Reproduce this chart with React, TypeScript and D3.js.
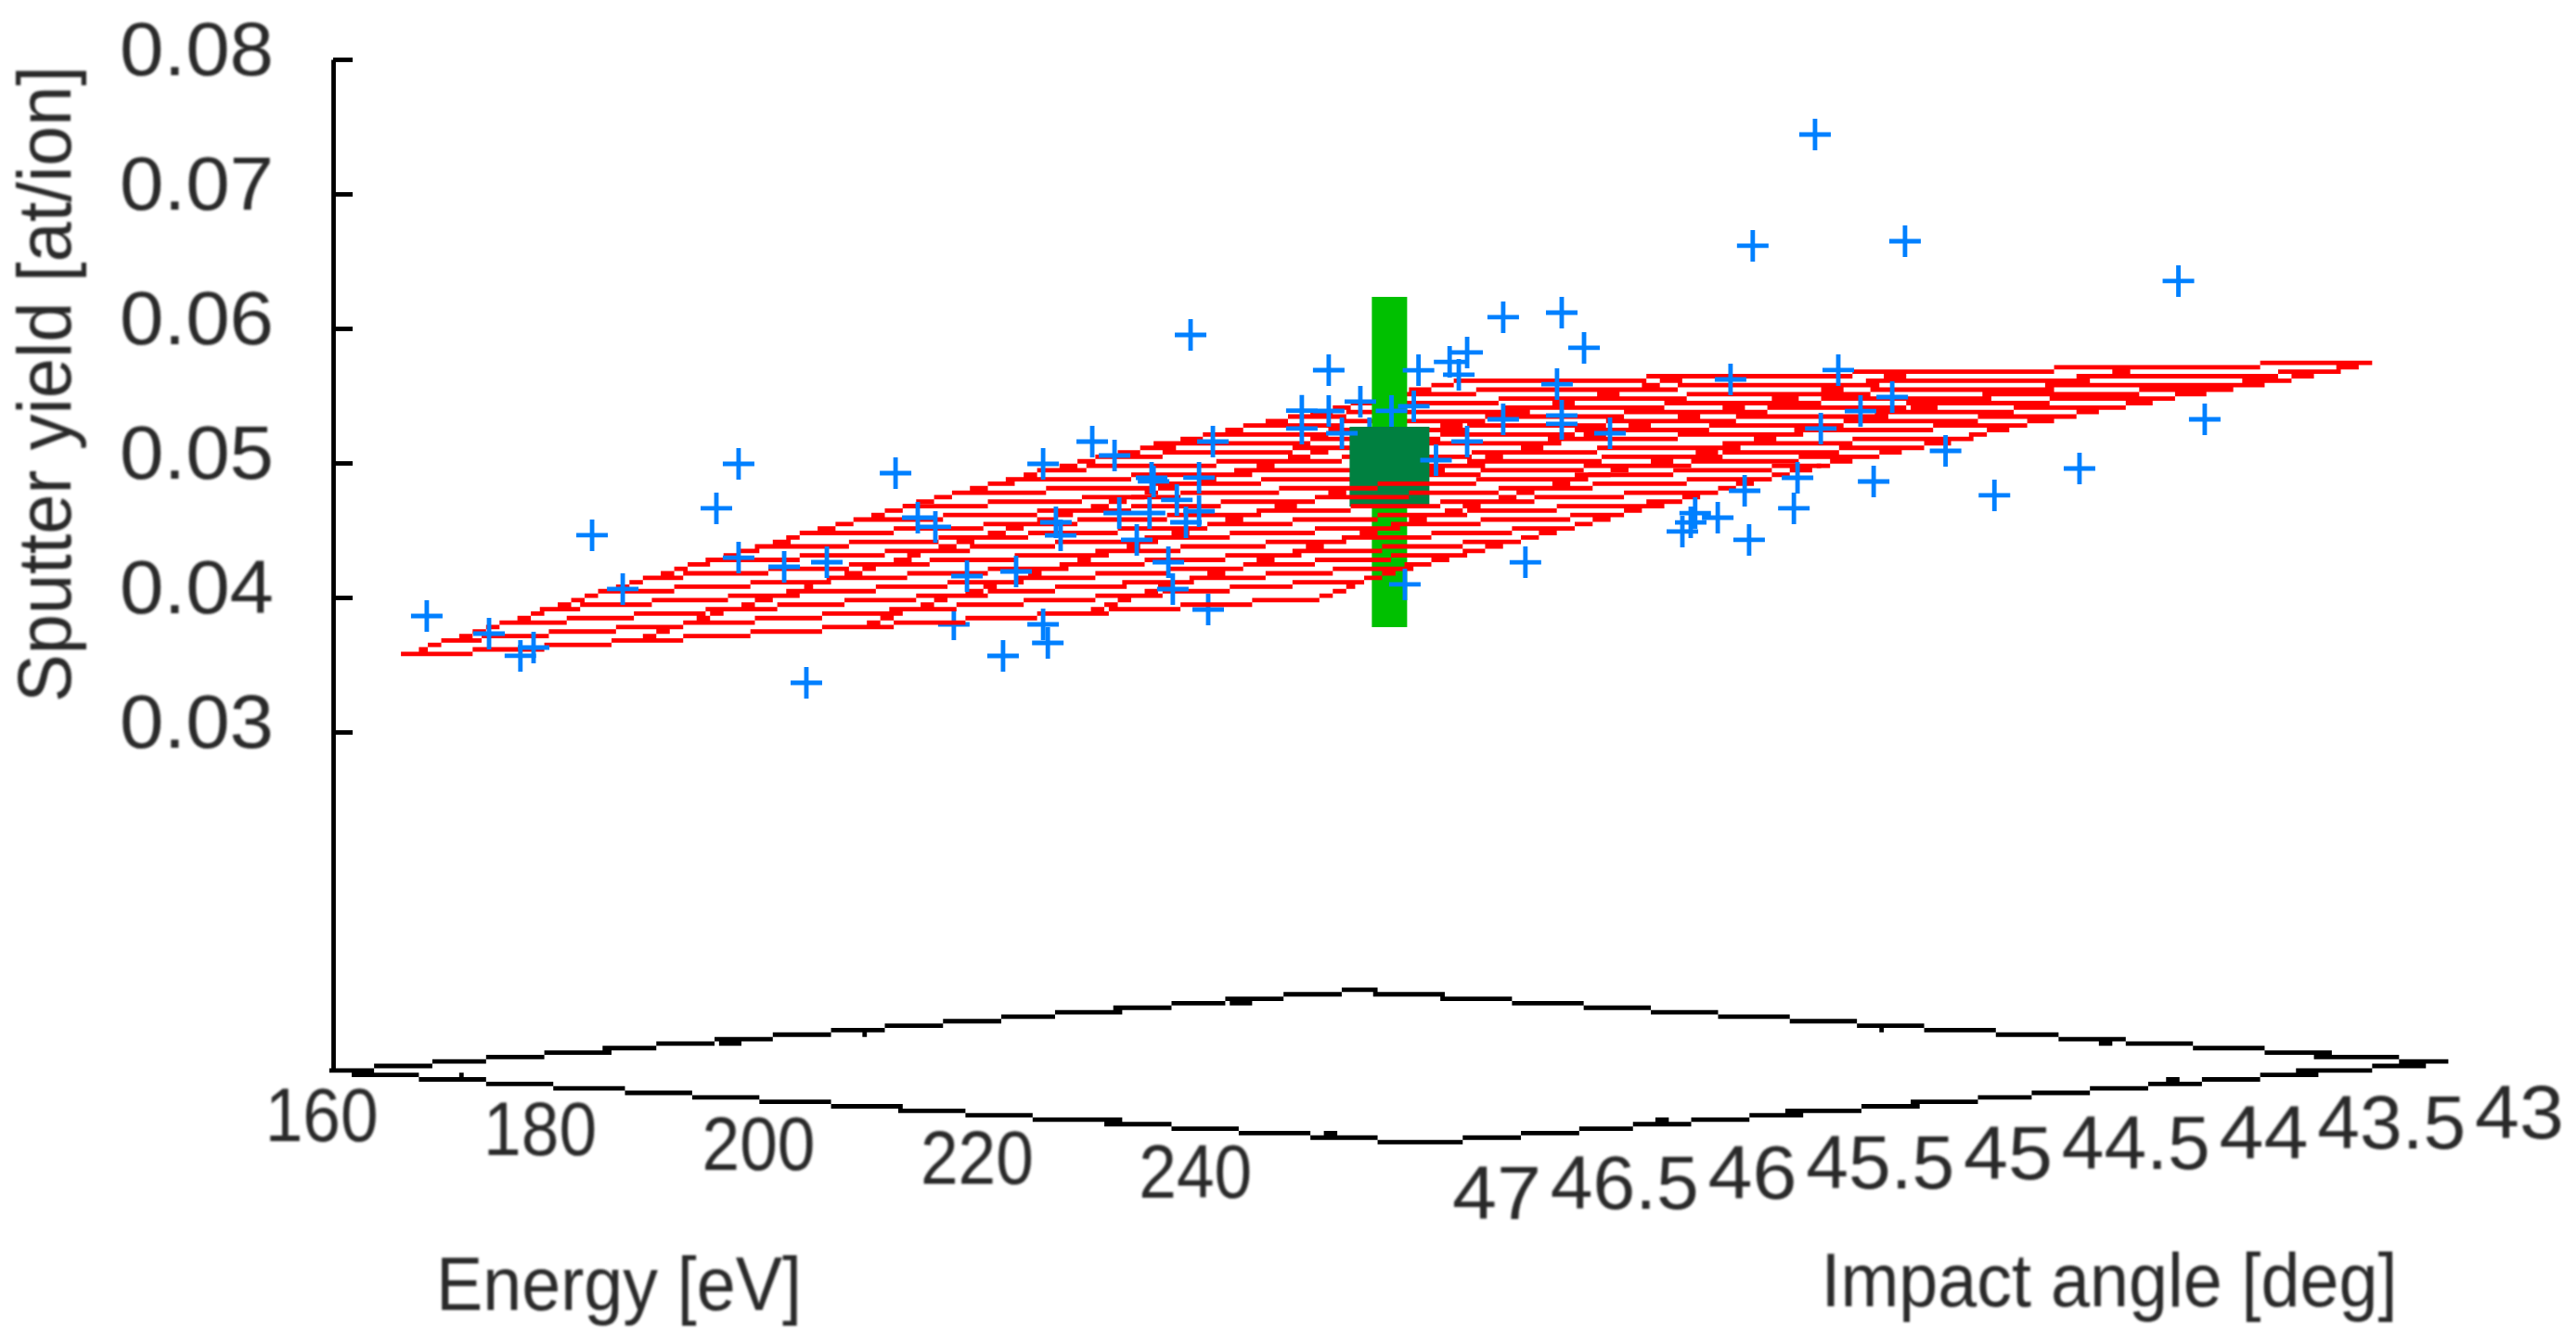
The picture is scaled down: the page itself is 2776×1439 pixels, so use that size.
// App.tsx - 3D sputter yield plot (fitted surface, measurements, mean with error bar)
import React, { useEffect, useRef } from 'react';
import * as d3 from 'd3';

const energyTicks = [160, 180, 200, 220, 240];
const angleTicks = [47, 46.5, 46, 45.5, 45, 44.5, 44, 43.5, 43];
const yieldTicks = [0.03, 0.04, 0.05, 0.06, 0.07, 0.08];

// fitted surface: five iso-energy lines, twenty-two iso-angle lines
const surfaceEnergy = [156.3, 177.3, 198.2, 219.2, 240.1];
const surfaceAngle = [47, 46.8, 46.61, 46.41, 46.22, 46.02, 45.82, 45.63, 45.43, 45.23, 45.04, 44.84, 44.65, 44.45, 44.25, 44.06, 43.86, 43.66, 43.47, 43.27, 43.08, 42.88];
const surfaceYieldLowE = [0.03599, 0.03687, 0.03775, 0.03862, 0.03949, 0.04037, 0.04116, 0.04188, 0.04261, 0.04333, 0.04408, 0.04477, 0.0454, 0.04604, 0.04668, 0.04715, 0.04761, 0.04807, 0.04857, 0.04909, 0.04961, 0.05013];
const surfaceYieldHighE = [0.04472, 0.0458, 0.04655, 0.04722, 0.04782, 0.04849, 0.04916, 0.04976, 0.0504, 0.05104, 0.05162, 0.05204, 0.05243, 0.05289, 0.0535, 0.05389, 0.05428, 0.05468, 0.05494, 0.05519, 0.05559, 0.05606];

// measurements
const pointEnergy = [154.43, 157.37, 158.86, 159.48, 162.24, 163.69, 168.12, 169.17, 169.17, 171.33, 172.38, 173.34, 176.59, 177.64, 178.48, 179.97, 181.68, 182.29, 183.57, 183.57, 183.79, 184.18, 184.4, 185.89, 186.95, 187.17, 188, 188.61, 188.7, 188.79, 189.49, 189.71, 189.89, 190.33, 190.54, 190.94, 190.94, 191.6, 195.81, 195.81, 197.08, 197.08, 197.7, 198.57, 200.04, 200.68, 201.1, 201.32, 202.15, 202.79, 203.23, 203.62, 203.62, 205.33, 205.33, 206.38, 207.87, 208.09, 208.09, 208.09, 209.15, 210.38, 213.8, 214.19, 214.41, 215.47, 216.08, 216.74, 216.96, 217.13, 219.07, 219.24, 220.07, 220.34, 221.17, 222.22, 222.84, 223.72, 224.33, 226.24, 228.56, 232.58, 237.26, 238.5];
const pointAngle = [46.823, 46.705, 46.646, 46.621, 46.51, 46.452, 46.275, 46.233, 46.233, 46.147, 46.105, 46.066, 45.936, 45.894, 45.861, 45.801, 45.733, 45.708, 45.657, 45.657, 45.648, 45.633, 45.624, 45.564, 45.522, 45.513, 45.48, 45.456, 45.452, 45.448, 45.42, 45.412, 45.404, 45.387, 45.378, 45.362, 45.362, 45.336, 45.168, 45.168, 45.117, 45.117, 45.092, 45.057, 44.998, 44.973, 44.956, 44.947, 44.914, 44.888, 44.871, 44.855, 44.855, 44.787, 44.787, 44.745, 44.685, 44.676, 44.676, 44.676, 44.634, 44.585, 44.448, 44.432, 44.424, 44.381, 44.357, 44.33, 44.322, 44.315, 44.237, 44.23, 44.197, 44.186, 44.153, 44.111, 44.086, 44.051, 44.027, 43.95, 43.858, 43.697, 43.51, 43.46];
const pointYield = [0.03859, 0.03726, 0.0356, 0.03621, 0.04454, 0.04053, 0.0465, 0.0498, 0.04283, 0.04213, 0.0335, 0.04246, 0.04906, 0.04574, 0.04505, 0.04138, 0.03544, 0.04171, 0.0497, 0.03777, 0.03639, 0.04535, 0.04438, 0.05134, 0.0503, 0.04602, 0.04402, 0.04601, 0.04863, 0.04836, 0.04235, 0.04035, 0.04697, 0.04531, 0.05924, 0.04862, 0.04613, 0.0513, 0.05357, 0.05224, 0.05657, 0.05354, 0.05188, 0.05422, 0.05352, 0.04062, 0.05386, 0.05654, 0.04985, 0.05715, 0.05619, 0.05784, 0.05122, 0.06045, 0.05286, 0.04223, 0.05546, 0.06077, 0.05312, 0.0525, 0.05815, 0.05179, 0.04446, 0.04514, 0.04583, 0.04548, 0.05575, 0.04747, 0.04382, 0.06568, 0.04615, 0.04842, 0.07393, 0.05207, 0.05641, 0.05336, 0.04812, 0.05439, 0.06597, 0.05037, 0.04705, 0.04902, 0.06292, 0.05263];

// measurements that sit behind the surface or the mean marker
const hiddenEnergy = [179.35, 191.38, 199.01];
const hiddenAngle = [45.826, 45.345, 45.04];
const hiddenYield = [0.0378, 0.03882, 0.05187];

// mean of the measurements with its spread
const meanEnergy = 198.5;
const meanAngle = 44.94;
const meanYield = 0.04921;
const meanYieldLow = 0.03728;
const meanYieldHigh = 0.06183;

const RED = '#ff0000';
const BLUE = '#0080ff';
const GREEN = '#00c000';
const DARK_GREEN = '#008040';
const TEXT = '#2a2a2a';
const PX = 2776 / 575; // the plot is built on a coarse pixel grid
const FONT = '"Liberation Sans", Arial, sans-serif';

type Seg = [number, number, number, number];

// turn line segments into stair-stepped runs on the coarse grid
const rasterize = (segs: Seg[]) => {
    const rows = new Map<number, Set<number>>();
    segs.forEach(([x0, y0, x1, y1]) => {
        const n = Math.max(1, Math.ceil(Math.max(Math.abs(x1 - x0), Math.abs(y1 - y0)) / PX));
        for (let i = 0; i <= n; i++) {
            const col = Math.round((x0 + ((x1 - x0) * i) / n) / PX);
            const row = Math.round((y0 + ((y1 - y0) * i) / n) / PX);
            if (!rows.has(row)) rows.set(row, new Set());
            rows.get(row)!.add(col);
        }
    });
    let d = '';
    rows.forEach((cols, row) => {
        const sorted = Array.from(cols).sort((a, b) => a - b);
        let start = sorted[0];
        sorted.forEach((c, i) => {
            if (i === sorted.length - 1 || sorted[i + 1] !== c + 1) {
                const w = (c - start + 1) * PX;
                d += `M${(start - 0.5) * PX} ${(row - 0.5) * PX}h${w}v${PX}h${-w}z`;
                start = sorted[i + 1];
            }
        });
    });
    return d;
};

const App = () => {
    const chartRef = useRef<SVGSVGElement>(null);

    useEffect(() => {
        drawChart();
    }, []);

    const drawChart = () => {
        const svg = d3.select(chartRef.current);
        svg.selectAll('*').remove();

        const originX = 359;
        const energyX = d3.scaleLinear().domain([150, 250]).range([0, 1177]);
        const energyY = d3.scaleLinear().domain([150, 250]).range([0, 77]);
        const angleX = d3.scaleLinear().domain([47, 43]).range([0, 1102]);
        const angleY = d3.scaleLinear().domain([47, 43]).range([0, -87]);
        const yieldY = d3.scaleLinear().domain([0.00476, 0.08]).range([1155, 64]);

        const project = (e: number, a: number, z: number): [number, number] => [
            originX + energyX(e) + angleX(a),
            yieldY(z) + energyY(e) + angleY(a),
        ];

        const defs = svg.append('defs');
        defs.append('filter').attr('id', 'soft')
            .append('feGaussianBlur').attr('stdDeviation', 1);

        // base of the box
        const zBase = yieldY.domain()[0];
        const [eMin, eMax] = energyX.domain();
        const [aMin, aMax] = angleX.domain();
        const baseLine = (e0: number, a0: number, e1: number, a1: number): Seg =>
            [...project(e0, a0, zBase), ...project(e1, a1, zBase)] as Seg;
        const baseSegs: Seg[] = [
            baseLine(eMin, aMin, eMax, aMin),
            baseLine(eMax, aMin, eMax, aMax),
            baseLine(eMax, aMax, eMin, aMax),
            baseLine(eMin, aMax, eMin, aMin),
        ];
        energyTicks.forEach(e => {
            baseSegs.push(baseLine(e, aMin, e, aMin - 0.08));
            baseSegs.push(baseLine(e, aMax, e, aMax + 0.08));
        });
        angleTicks.forEach(a => {
            baseSegs.push(baseLine(eMin, a, eMin + 2, a));
            baseSegs.push(baseLine(eMax, a, eMax - 2, a));
        });
        svg.append('path').attr('d', rasterize(baseSegs)).attr('fill', '#000');

        // surface, split so the mean marker can sit between its two halves
        const lastFront = 10;
        const zAt = (j: number, k: number) => d3.scaleLinear()
            .domain([surfaceEnergy[0], surfaceEnergy[surfaceEnergy.length - 1]])
            .range([surfaceYieldLowE[k], surfaceYieldHighE[k]])(surfaceEnergy[j]);
        const front: Seg[] = [];
        const back: Seg[] = [];
        surfaceAngle.forEach((a, k) => {
            const seg = [
                ...project(surfaceEnergy[0], a, surfaceYieldLowE[k]),
                ...project(surfaceEnergy[surfaceEnergy.length - 1], a, surfaceYieldHighE[k]),
            ] as Seg;
            (k <= lastFront ? front : back).push(seg);
        });
        surfaceEnergy.forEach((e, j) => {
            d3.pairs(surfaceAngle.map((a, k) => project(e, a, zAt(j, k)))).forEach(([p, q], k) => {
                (k < lastFront ? front : back).push([p[0], p[1], q[0], q[1]]);
            });
        });
        svg.append('path').attr('d', rasterize(back)).attr('fill', RED);

        const plus = (es: number[], as: number[], zs: number[]) => {
            const p = d3.path();
            es.forEach((e, i) => {
                const [x, y] = project(e, as[i], zs[i]);
                p.moveTo(x - 17, y); p.lineTo(x + 17, y);
                p.moveTo(x, y - 17); p.lineTo(x, y + 17);
            });
            return p.toString();
        };
        svg.append('path').attr('d', plus(hiddenEnergy, hiddenAngle, hiddenYield))
            .attr('fill', 'none').attr('stroke', BLUE).attr('stroke-width', PX);

        // mean marker with error bar
        const [meanX, meanY] = project(meanEnergy, meanAngle, meanYield);
        const barTop = project(meanEnergy, meanAngle, meanYieldHigh)[1];
        const barBottom = project(meanEnergy, meanAngle, meanYieldLow)[1];
        svg.append('rect').attr('x', meanX - 19).attr('width', 38)
            .attr('y', barTop).attr('height', barBottom - barTop).attr('fill', GREEN);
        svg.append('rect').attr('x', meanX - 43).attr('width', 86)
            .attr('y', meanY - 43).attr('height', 86).attr('fill', DARK_GREEN);

        svg.append('path').attr('d', rasterize(front)).attr('fill', RED);
        svg.append('path').attr('d', plus(pointEnergy, pointAngle, pointYield))
            .attr('fill', 'none').attr('stroke', BLUE).attr('stroke-width', PX);

        // vertical axis
        const axis = d3.axisLeft(yieldY)
            .tickValues(yieldTicks)
            .tickFormat(d3.format('.2f') as any)
            .tickSize(-21)
            .tickSizeOuter(0)
            .tickPadding(64);
        const gAxis = svg.append('g').attr('transform', `translate(${originX},0)`).call(axis);
        gAxis.selectAll('path,line').attr('stroke', '#000').attr('stroke-width', PX);
        gAxis.selectAll('text')
            .attr('dy', 16.5)
            .attr('textLength', 166)
            .attr('lengthAdjust', 'spacingAndGlyphs')
            .attr('fill', TEXT)
            .attr('font-family', FONT)
            .attr('font-size', 81)
            .attr('filter', 'url(#soft)');
        gAxis.attr('font-size', null).attr('font-family', null);

        const label = (txt: string, x: number, y: number, len: number, size = 81) =>
            svg.append('text')
                .attr('x', x).attr('y', y)
                .attr('text-anchor', 'middle')
                .attr('textLength', len)
                .attr('lengthAdjust', 'spacingAndGlyphs')
                .attr('font-family', FONT)
                .attr('font-size', size)
                .attr('fill', TEXT)
                .attr('filter', 'url(#soft)')
                .text(txt);

        energyTicks.forEach(e => {
            const [x, y] = project(e, aMin, zBase);
            label(String(e), x - 130, y + 67, 122);
        });
        angleTicks.forEach(a => {
            const [x, y] = project(eMax, a, zBase);
            const s = String(a);
            label(s, x + 77, y + 82, s.length > 2 ? 160 : 96);
        });
        label('Energy [eV]', 667, 1412, 394);
        label('Impact angle [deg]', 2273, 1408, 621);
        label('Sputter yield [at/ion]', 0, 0, 686)
            .attr('transform', 'translate(76,414) rotate(-90)');
    };

    return (
        <svg
            ref={chartRef}
            width={2776}
            height={1439}
            style={{ position: 'absolute', left: 0, top: 0, display: 'block', background: '#fff' }}
        ></svg>
    );
};

export default App;
